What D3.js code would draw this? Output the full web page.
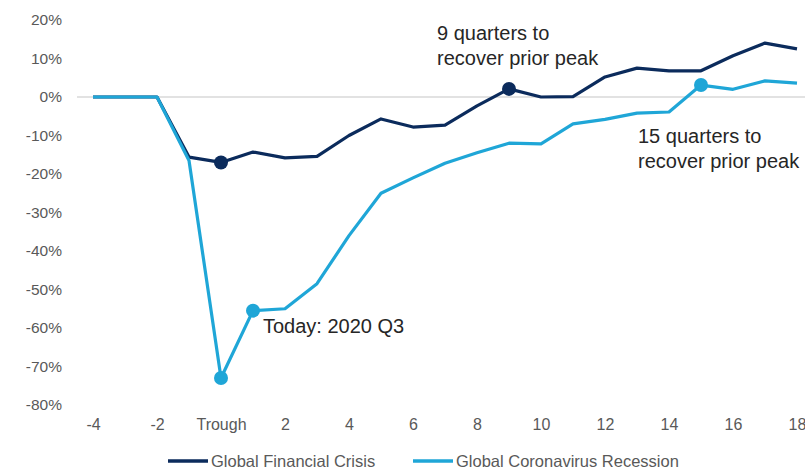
<html>
<head>
<script src="https://d3js.org/d3.v7.min.js"></script>
<style>
  body { margin: 0; background: #fff; }
  svg text { font-family: "Liberation Sans", Arial, sans-serif; }
</style>
</head>
<body>
<svg width="805" height="471"></svg>
<script>
// quarters relative to the trough
const quarters = [-4,-3,-2,-1,0,1,2,3,4,5,6,7,8,9,10,11,12,13,14,15,16,17,18];
// cumulative change from prior peak, %
const gfc = [0,0,0,-15.6,-17,-14.3,-15.8,-15.4,-10,-5.7,-7.8,-7.3,-2.3,2.1,0,0.1,5.2,7.5,6.8,6.8,10.7,14,12.5];
const covid = [0,0,0,-16.5,-73,-55.5,-55,-48.5,-36,-25,-21,-17.2,-14.5,-12,-12.2,-7,-5.8,-4.2,-3.9,3.1,2,4.2,3.6];
const seriesNames = ['Global Financial Crisis', 'Global Coronavirus Recession'];
const xTicks = [-4,-2,0,2,4,6,8,10,12,14,16,18];
const yTicks = [20,10,0,-10,-20,-30,-40,-50,-60,-70,-80];
// highlighted quarters
const gfcMarks = [0, 9];
const covidMarks = [0, 1, 15];

const navy = '#0b2b5c';
const sky = '#1fa6d7';

const svg = d3.select('svg');

const x = d3.scaleLinear().domain([-4, 18]).range([93, 797]);
const y = d3.scaleLinear().domain([-80, 20]).range([405, 20]);

// y axis labels
svg.append('g')
    .attr('transform', 'translate(62,0)')
    .call(d3.axisLeft(y).tickValues(yTicks).tickSize(0).tickPadding(0)
        .tickFormat(d => d + '%'))
    .call(g => g.select('.domain').remove())
    .selectAll('text')
    .attr('font-size', 15.5)
    .attr('fill', '#595959');

// x axis labels
svg.append('g')
    .attr('transform', 'translate(0,405)')
    .call(d3.axisBottom(x).tickValues(xTicks).tickSize(0).tickPadding(14)
        .tickFormat(d => d === 0 ? 'Trough' : d))
    .call(g => g.select('.domain').remove())
    .selectAll('text')
    .attr('font-size', 16)
    .attr('fill', '#595959');

// zero line
svg.append('line')
    .attr('x1', 77).attr('x2', 805)
    .attr('y1', y(0)).attr('y2', y(0))
    .attr('stroke', '#d9d9d9')
    .attr('stroke-width', 1.5);

const line = d3.line()
    .x((d, i) => x(quarters[i]))
    .y(d => y(d));

svg.append('path')
    .attr('d', line(gfc))
    .attr('fill', 'none')
    .attr('stroke', navy)
    .attr('stroke-width', 3.2)
    .attr('stroke-linejoin', 'round');

svg.append('path')
    .attr('d', line(covid))
    .attr('fill', 'none')
    .attr('stroke', sky)
    .attr('stroke-width', 3.2)
    .attr('stroke-linejoin', 'round');

svg.selectAll('.gfcDot')
    .data(gfcMarks)
    .enter()
    .append('circle')
    .attr('cx', q => x(q))
    .attr('cy', q => y(gfc[quarters.indexOf(q)]))
    .attr('r', 7)
    .attr('fill', navy);

svg.selectAll('.covidDot')
    .data(covidMarks)
    .enter()
    .append('circle')
    .attr('cx', q => x(q))
    .attr('cy', q => y(covid[quarters.indexOf(q)]))
    .attr('r', 7)
    .attr('fill', sky);

// annotations
function note(lines, tx, ty) {
    const t = svg.append('text')
        .attr('font-size', 20)
        .attr('fill', '#262626');
    lines.forEach((s, k) => {
        t.append('tspan').attr('x', tx).attr('y', ty + k * 25).text(s);
    });
}
note(['9 quarters to', 'recover prior peak'], 437, 40);
note(['15 quarters to', 'recover prior peak'], 638, 143);
note(['Today: 2020 Q3'], 263, 333);

// legend
const legend = [
    { name: seriesNames[0], color: navy, x: 168 },
    { name: seriesNames[1], color: sky, x: 413 }
];
const lg = svg.selectAll('.legend')
    .data(legend)
    .enter()
    .append('g')
    .attr('transform', d => 'translate(' + d.x + ',461)');
lg.append('line')
    .attr('x1', 0).attr('x2', 40)
    .attr('stroke', d => d.color)
    .attr('stroke-width', 3.5);
lg.append('text')
    .attr('x', 43)
    .attr('dy', '0.35em')
    .attr('font-size', 16.5)
    .attr('fill', '#595959')
    .text(d => d.name);
</script>
</body>
</html>
